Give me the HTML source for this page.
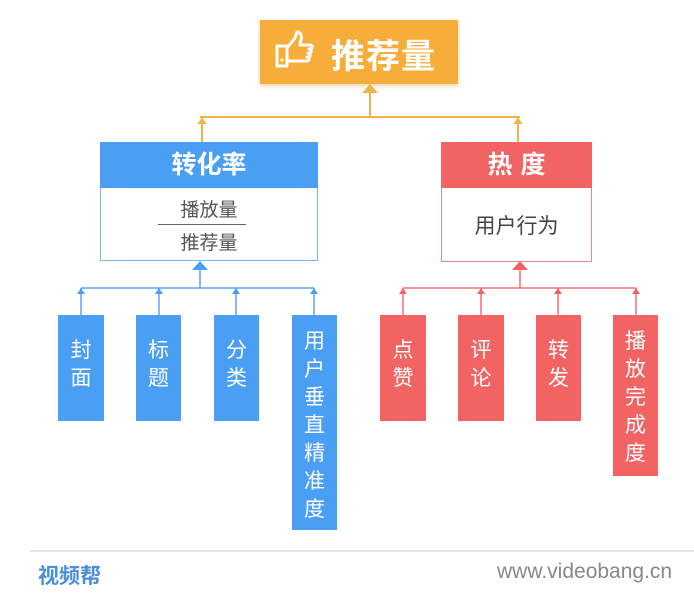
<!DOCTYPE html>
<html><head><meta charset="utf-8"><style>
body{margin:0;width:694px;height:610px;background:#fff;position:relative;overflow:hidden;font-family:"Liberation Sans","Noto Sans CJK SC",sans-serif}
.a{position:absolute}
.v{position:absolute;color:#fff;font-size:21px;text-align:center;line-height:28px;padding-top:22px;box-sizing:border-box}
.b{background:#4a9ff5}.r{background:#f26464}
</style></head><body>
<div class="a" style="left:260px;top:20px;width:198px;height:64px;background:#f6ad3a;box-shadow:0 2px 4px rgba(200,140,40,.4)"></div>
<svg class="a" style="left:274px;top:30px" width="46" height="40" viewBox="0 0 46 40"><path d="M3 16h10v20H3zM13 18l8-10 2-6c4 0 5 4 4 8l-1 5h10c3 0 3 4 0 4h-1c3 0 3 4 0 4h-1c3 0 3 4 0 4h-1c3 0 3 4 0 4H13" fill="none" stroke="#fff" stroke-width="3" stroke-linejoin="round"/><circle cx="8" cy="30" r="1.5" fill="#fff"/></svg>
<div class="a" style="left:331px;top:29px;font-size:34px;font-weight:bold;color:#fff;letter-spacing:1px">推荐量</div>
<svg class="a" style="left:0;top:0" width="694" height="610">
<g stroke="#f3b14a" stroke-width="2" fill="#f3b14a"><line x1="370" y1="92" x2="370" y2="117"/><line x1="200" y1="117" x2="520" y2="117"/><line x1="202" y1="117" x2="202" y2="142"/><line x1="518" y1="117" x2="518" y2="142"/></g>
<g fill="#f3b14a"><polygon points="362,93 378,93 370,84"/><polygon points="197,124 207,124 202,118"/><polygon points="513,124 523,124 518,118"/></g>
<g stroke="#5aa5ee" stroke-width="1.5"><line x1="200" y1="268" x2="200" y2="288"/><line x1="81" y1="288" x2="314" y2="288"/><line x1="81" y1="288" x2="81" y2="315"/><line x1="159" y1="288" x2="159" y2="315"/><line x1="236" y1="288" x2="236" y2="315"/><line x1="314" y1="288" x2="314" y2="315"/></g>
<g fill="#4a9ff5"><polygon points="192,270 208,270 200,261"/><polygon points="77,294 85,294 81,288"/><polygon points="155,294 163,294 159,288"/><polygon points="232,294 240,294 236,288"/><polygon points="310,294 318,294 314,288"/></g>
<g stroke="#f07070" stroke-width="1.5"><line x1="520" y1="268" x2="520" y2="288"/><line x1="403" y1="288" x2="636" y2="288"/><line x1="403" y1="288" x2="403" y2="315"/><line x1="481" y1="288" x2="481" y2="315"/><line x1="558" y1="288" x2="558" y2="315"/><line x1="636" y1="288" x2="636" y2="315"/></g>
<g fill="#f26464"><polygon points="512,270 528,270 520,261"/><polygon points="399,294 407,294 403,288"/><polygon points="477,294 485,294 481,288"/><polygon points="554,294 562,294 558,288"/><polygon points="632,294 640,294 636,288"/></g>
<line x1="30" y1="551" x2="694" y2="551" stroke="#ccc" stroke-width="1"/>
</svg>
<div class="a" style="left:100px;top:142px;width:216px;height:117px;border:1px solid #7ab6ee"></div>
<div class="a" style="left:100px;top:142px;width:218px;height:46px;background:#4a9ff5;color:#fff;font-size:25px;font-weight:bold;text-align:center;line-height:46px">转化率</div>
<div class="a" style="left:100px;top:195px;width:218px;text-align:center;font-size:19px;color:#555">播放量</div>
<div class="a" style="left:158px;top:224px;width:88px;height:1px;background:#666"></div>
<div class="a" style="left:100px;top:228px;width:218px;text-align:center;font-size:19px;color:#555">推荐量</div>
<div class="a" style="left:441px;top:142px;width:149px;height:118px;border:1px solid #d98a95"></div>
<div class="a" style="left:441px;top:142px;width:151px;height:46px;background:#f26464;color:#fff;font-size:25px;font-weight:bold;text-align:center;line-height:46px;letter-spacing:8px;text-indent:8px">热度</div>
<div class="a" style="left:441px;top:210px;width:151px;text-align:center;font-size:21px;color:#444">用户行为</div>
<div class="v b" style="left:58px;top:315px;width:46px;height:106px">封<br>面</div>
<div class="v b" style="left:136px;top:315px;width:45px;height:106px">标<br>题</div>
<div class="v b" style="left:214px;top:315px;width:45px;height:106px">分<br>类</div>
<div class="v b" style="left:292px;top:315px;width:45px;height:215px;padding-top:13px">用<br>户<br>垂<br>直<br>精<br>准<br>度</div>
<div class="v r" style="left:380px;top:315px;width:46px;height:106px">点<br>赞</div>
<div class="v r" style="left:458px;top:315px;width:46px;height:106px">评<br>论</div>
<div class="v r" style="left:536px;top:315px;width:45px;height:106px">转<br>发</div>
<div class="v r" style="left:613px;top:315px;width:45px;height:161px;padding-top:13px">播<br>放<br>完<br>成<br>度</div>
<div class="a" style="left:38px;top:560px;font-size:21px;font-weight:bold;color:#4a90d9">视频帮</div>
<div class="a" style="left:497px;top:560px;font-size:21px;color:#888">www.videobang.cn</div>
</body></html>
